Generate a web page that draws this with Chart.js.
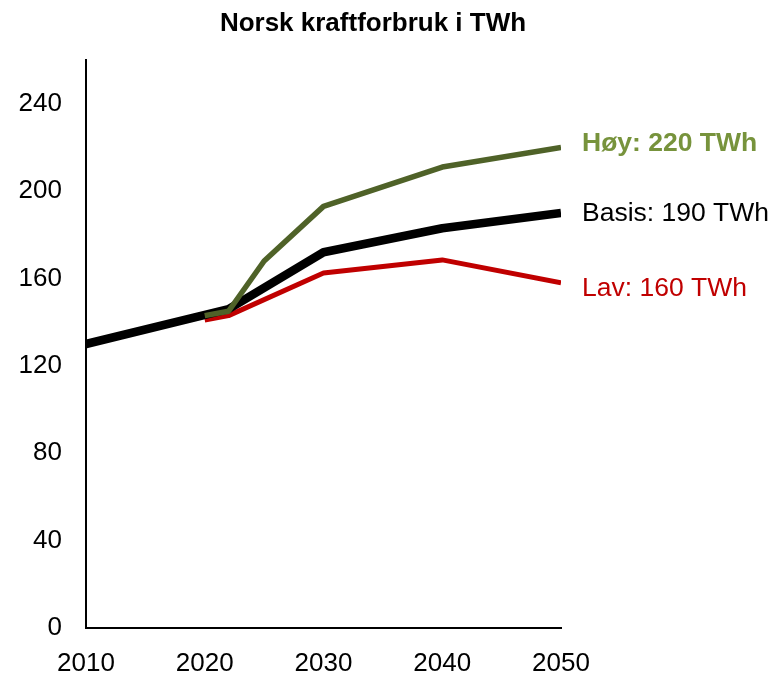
<!DOCTYPE html>
<html>
<head>
<meta charset="utf-8">
<script src="https://cdn.jsdelivr.net/npm/chart.js@4.4.1/dist/chart.umd.min.js"></script>
<style>
    html, body { margin: 0; padding: 0; background: #fff; }
    #wrap { width: 773px; height: 674px; }
</style>
</head>
<body>
<div id="wrap"><canvas id="chartForbruk"></canvas></div>
<script>
var chartTitle = 'Norsk kraftforbruk i TWh';

// Basis
var basisYears = [2010, 2022, 2030, 2040, 2050];
var basisValues = [130, 146, 172, 183, 190];
// Høy
var hoyYears = [2020, 2022, 2025, 2030, 2040, 2050];
var hoyValues = [143, 145, 168, 193, 211, 220];
// Lav
var lavYears = [2020, 2022, 2030, 2040, 2050];
var lavValues = [141, 143, 162.5, 168.5, 158];

var seriesLabels = ['Høy: 220 TWh', 'Basis: 190 TWh', 'Lav: 160 TWh'];
var xTicks = [2010, 2020, 2030, 2040, 2050];
var yTicks = [0, 40, 80, 120, 160, 200, 240];

var fontFamily = "'Liberation Sans', Arial, sans-serif";

var toPoints = function(xs, ys){
    var pts = [];
    for(var i = 0; i < xs.length; i++){
        pts.push({x: xs[i], y: ys[i]});
    }
    return pts;
}

// title + end-of-line labels
var labelPlugin = {
    id: 'endLabels',
    afterDraw: function(chart){
        var ctx = chart.ctx;
        var yScale = chart.scales.y;
        ctx.save();
        ctx.fillStyle = '#000';
        ctx.font = 'bold 26px ' + fontFamily;
        ctx.textAlign = 'center';
        ctx.textBaseline = 'alphabetic';
        ctx.fillText(chartTitle, 373, 31);

        var info = [
            {text: seriesLabels[0], value: hoyValues[hoyValues.length - 1], color: '#77933C', bold: true, nudge: -4},
            {text: seriesLabels[1], value: basisValues[basisValues.length - 1], color: '#000000', bold: false, nudge: 1},
            {text: seriesLabels[2], value: lavValues[lavValues.length - 1], color: '#C00000', bold: false, nudge: 6}
        ];
        ctx.textAlign = 'left';
        ctx.textBaseline = 'middle';
        info.forEach(function(item){
            ctx.font = (item.bold ? 'bold ' : '') + '26.5px ' + fontFamily;
            ctx.fillStyle = item.color;
            ctx.fillText(item.text, chart.chartArea.right + 21, yScale.getPixelForValue(item.value) + item.nudge);
        });
        ctx.restore();
    }
};

var ctx = document.getElementById('chartForbruk').getContext('2d');
var chart = new Chart(ctx, {
    type: 'line',
    data: {
        datasets: [
            {
                label: 'Høy',
                data: toPoints(hoyYears, hoyValues),
                borderColor: '#4F6228',
                borderWidth: 5.5,
                order: 0
            },
            {
                label: 'Basis',
                data: toPoints(basisYears, basisValues),
                borderColor: '#000000',
                borderWidth: 8.5,
                order: 1
            },
            {
                label: 'Lav',
                data: toPoints(lavYears, lavValues),
                borderColor: '#C00000',
                borderWidth: 5,
                order: 2
            }
        ]
    },
    options: {
        responsive: true,
        maintainAspectRatio: false,
        animation: false,
        devicePixelRatio: 1,
        elements: {
            point: { radius: 0, hoverRadius: 0 },
            line: { tension: 0, borderJoinStyle: 'round', borderCapStyle: 'butt', fill: false }
        },
        layout: { padding: { top: 60, right: 212, bottom: 0, left: 0 } },
        plugins: {
            legend: { display: false },
            tooltip: { enabled: false },
            title: { display: false }
        },
        scales: {
            x: {
                type: 'linear',
                min: 2010,
                max: 2050,
                grid: { display: false, drawTicks: false },
                border: { display: true, color: '#000', width: 2 },
                afterBuildTicks: function(scale){
                    scale.ticks = xTicks.map(function(v){ return {value: v}; });
                },
                afterFit: function(scale){ scale.height = 46; },
                ticks: {
                    color: '#000',
                    padding: 20,
                    maxRotation: 0,
                    font: { family: fontFamily, size: 26 },
                    callback: function(v){ return String(v); }
                }
            },
            y: {
                min: 0,
                max: 260,
                grid: { display: false, drawTicks: false },
                border: { display: true, color: '#000', width: 2 },
                afterBuildTicks: function(scale){
                    scale.ticks = yTicks.map(function(v){ return {value: v}; });
                },
                afterFit: function(scale){ scale.width = 86; },
                ticks: {
                    color: '#000',
                    padding: 24,
                    font: { family: fontFamily, size: 26 }
                }
            }
        }
    },
    plugins: [labelPlugin]
});
</script>
</body>
</html>
